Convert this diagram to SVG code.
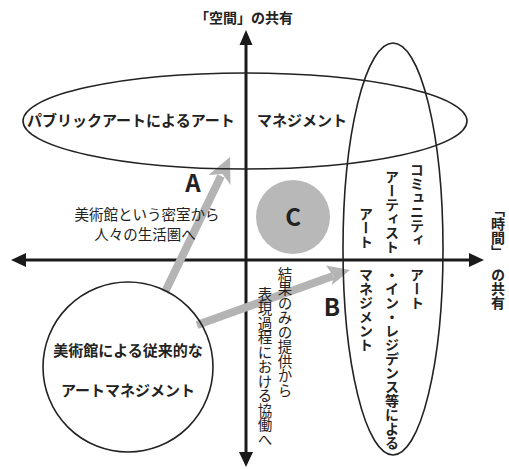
<svg xmlns="http://www.w3.org/2000/svg" width="509" height="469" viewBox="0 0 509 469">
<style>
  text { font-family: "Noto Sans CJK JP", "Noto Sans", sans-serif; fill: #222; }
  .b { font-weight: bold; }
  .lbl { font-size: 15px; font-weight: bold; }
  .note { font-size: 14.5px; }
  .big { font-size: 24px; font-weight: bold; text-anchor: middle; }
  .v { writing-mode: vertical-rl; font-size: 14px; font-weight: bold; }
  .vn { writing-mode: vertical-rl; font-size: 14.5px; }
  .outline { fill: none; stroke: #222; stroke-width: 1.6; }
  .axis { stroke: #1a1a1a; stroke-width: 3; fill: none; }
  .head { fill: #1a1a1a; }
  .garrow { stroke: #b4b4b4; stroke-width: 8; fill: none; stroke-linecap: butt; }
  .ghead { fill: #b4b4b4; }
</style>

<g id="connectors">
  <!-- axes -->
  <line class="axis" x1="246" y1="44" x2="246" y2="453"/>
  <polygon class="head" points="246,30 239.5,45 252.5,45"/>
  <polygon class="head" points="246,467 239,452 253,452"/>
  <line class="axis" x1="24" y1="260" x2="470" y2="260"/>
  <polygon class="head" points="11,260 26,253 26,267"/>
  <polygon class="head" points="484,260 469,253 469,267"/>
  <!-- gray arrows -->
  <line class="garrow" x1="165" y1="292" x2="221" y2="176"/>
  <polygon class="ghead" points="230,157 230.5,185 222.6,174 208.5,175"/>
  <line class="garrow" x1="197" y1="325" x2="333" y2="276"/>
  <polygon class="ghead" points="350,270 326,265.5 333.5,276 332,285"/>
</g>

<g id="axis-labels">
  <text class="b" x="244" y="23" font-size="14" text-anchor="middle">「空間」の共有</text>
  <text class="v" x="498" y="203">「時間」</text>
  <text class="v" x="498" y="268">の共有</text>
</g>

<g id="public-art">
  <ellipse class="outline" cx="245" cy="121" rx="222" ry="48"/>
  <text class="lbl" x="27" y="126">パブリックアートによるアート</text>
  <text class="lbl" x="257" y="126">マネジメント</text>
</g>

<g id="community-art">
  <ellipse class="outline" cx="393" cy="249" rx="50" ry="206"/>
  <text class="v" x="417" y="163">コミュニティ</text>
  <text class="v" x="417" y="268">アート</text>
  <text class="v" x="392" y="170">アーティスト</text>
  <text class="v" x="392" y="268">・イン・レジデンス等による</text>
  <text class="v" x="366" y="207">アート</text>
  <text class="v" x="366" y="268">マネジメント</text>
</g>

<g id="museum">
  <circle class="outline" cx="128" cy="367" r="85"/>
  <text class="lbl" x="128" y="356" text-anchor="middle">美術館による従来的な</text>
  <text class="lbl" x="128" y="396" text-anchor="middle">アートマネジメント</text>
</g>

<g id="node-c">
  <circle cx="293" cy="217" r="37" fill="#b8b8b8"/>
  <text class="big" x="293" y="226">C</text>
</g>

<g id="label-a">
  <text class="big" x="193" y="192">A</text>
  <text class="note" x="147" y="220" text-anchor="middle">美術館という密室から</text>
  <text class="note" x="145" y="240" text-anchor="middle">人々の生活圏へ</text>
</g>

<g id="label-b">
  <text class="big" x="332" y="316">B</text>
  <text class="vn" x="285" y="267">結果のみの提供から</text>
  <text class="vn" x="265" y="287">表現過程における協働へ</text>
</g>
</svg>
